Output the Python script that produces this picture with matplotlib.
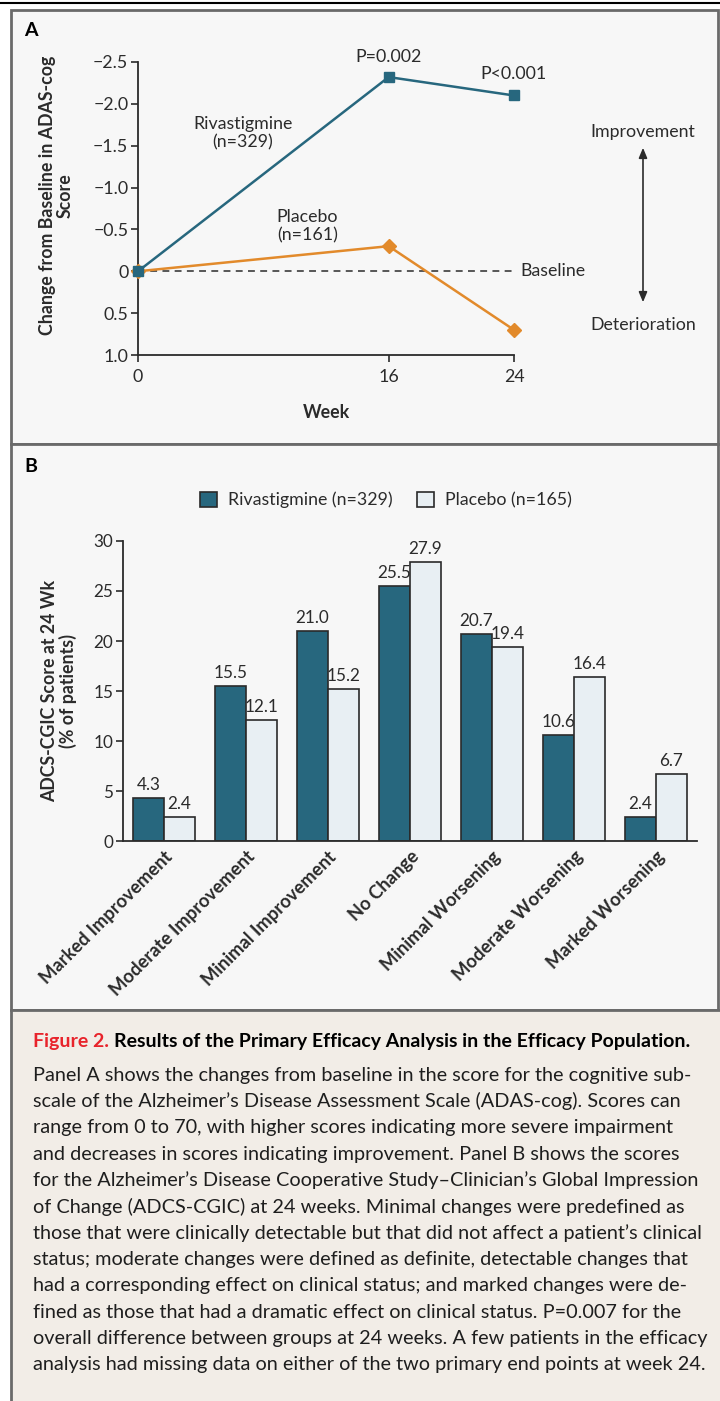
import matplotlib
matplotlib.use("Agg")
import matplotlib.pyplot as plt
import matplotlib.patches as patches
from matplotlib.lines import Line2D
import numpy as np

plt.rcParams['font.family'] = ['Lato', 'DejaVu Sans']

# ---- data, panel A
weeks = [0, 16, 24]
riva_change = [0.0, -2.32, -2.10]
placebo_change = [0.0, -0.30, 0.70]
a_yticks = [-2.5, -2.0, -1.5, -1.0, -0.5, 0, 0.5, 1.0]
a_yticklabels = ['\u22122.5', '\u22122.0', '\u22121.5', '\u22121.0', '\u22120.5', '0', '0.5', '1.0']

# ---- data, panel B
categories = ['Marked Improvement', 'Moderate Improvement', 'Minimal Improvement',
              'No Change', 'Minimal Worsening', 'Moderate Worsening', 'Marked Worsening']
riva_pct = [4.3, 15.5, 21.0, 25.5, 20.7, 10.6, 2.4]
placebo_pct = [2.4, 12.1, 15.2, 27.9, 19.4, 16.4, 6.7]
b_yticks = [0, 5, 10, 15, 20, 25, 30]

caption_title = 'Results of the Primary Efficacy Analysis in the Efficacy Population.'
caption_lines = [
    'Panel A shows the changes from baseline in the score for the cognitive sub-',
    'scale of the Alzheimer\u2019s Disease Assessment Scale (ADAS-cog). Scores can',
    'range from 0 to 70, with higher scores indicating more severe impairment',
    'and decreases in scores indicating improvement. Panel B shows the scores',
    'for the Alzheimer\u2019s Disease Cooperative Study\u2013Clinician\u2019s Global Impression',
    'of Change (ADCS-CGIC) at 24 weeks. Minimal changes were predefined as',
    'those that were clinically detectable but that did not affect a patient\u2019s clinical',
    'status; moderate changes were defined as definite, detectable changes that',
    'had a corresponding effect on clinical status; and marked changes were de-',
    'fined as those that had a dramatic effect on clinical status. P=0.007 for the',
    'overall difference between groups at 24 weeks. A few patients in the efficacy',
    'analysis had missing data on either of the two primary end points at week 24.',
]

RIVA = '#27677e'
PLAC = '#e8eff3'
ORANGE = '#e28a2b'
INK = '#2b2b2b'
PANEL_BG = '#f7f7f7'
CAP_BG = '#f2ede7'
BORDER = '#6a6a6a'
FS = 12.8

W, H = 720, 1401
fig = plt.figure(figsize=(W / 100, H / 100), dpi=100, facecolor='white')


def fx(px):
    return px / W


def fy(py):
    return 1 - py / H


def ax_rect(l, t, r, b):
    return [fx(l), fy(b), (r - l) / W, (b - t) / H]


# background boxes
fig.add_artist(Line2D([0, 1], [fy(3), fy(3)], color='black', lw=1.5, zorder=-5))
fig.add_artist(patches.Rectangle((fx(11), fy(444)), fx(718) - fx(11), fy(10) - fy(444),
                                 facecolor=PANEL_BG, edgecolor=BORDER, lw=2, zorder=-5))
fig.add_artist(patches.Rectangle((fx(11), fy(1010)), fx(718) - fx(11), fy(444) - fy(1010),
                                 facecolor=PANEL_BG, edgecolor=BORDER, lw=2, zorder=-5))
fig.add_artist(patches.Rectangle((fx(11), fy(1420)), fx(730) - fx(11), fy(1010) - fy(1420),
                                 facecolor=CAP_BG, edgecolor=BORDER, lw=2, zorder=-5))

# ================= Panel A =================
axA = fig.add_axes(ax_rect(138, 62, 514, 355))
axA.set_facecolor('none')
axA.plot(weeks, placebo_change, color=ORANGE, lw=1.8, marker='D', ms=7.5,
         mec=ORANGE, zorder=3, clip_on=False)
axA.plot(weeks, riva_change, color=RIVA, lw=1.8, marker='s', ms=7.5,
         mec=RIVA, zorder=4, clip_on=False)
axA.plot([0, 24], [0, 0], color=INK, lw=1.1, ls=(0, (4.5, 3.5)), zorder=1, clip_on=False)
axA.set_xlim(0, 24)
axA.set_ylim(1.0, -2.5)
axA.set_xticks(weeks)
axA.set_yticks(a_yticks)
axA.set_yticklabels(a_yticklabels)
for s in ['top', 'right']:
    axA.spines[s].set_visible(False)
for s in ['left', 'bottom']:
    axA.spines[s].set_color(INK)
    axA.spines[s].set_linewidth(1.3)
axA.tick_params(length=5, width=1.2, color=INK, labelsize=FS, labelcolor=INK, pad=2)
axA.tick_params(axis='x', pad=5)
axA.set_xlabel('Week', fontsize=FS, fontweight='bold', color=INK, labelpad=14)
axA.set_ylabel('Change from Baseline in ADAS-cog\nScore', fontsize=FS,
               fontweight='bold', color=INK, linespacing=1.05)
axA.yaxis.set_label_coords(-0.17, 0.545)

axA.text(16, -2.47, 'P=0.002', ha='center', va='bottom', fontsize=FS, color=INK)
axA.text(24, -2.26, 'P<0.001', ha='center', va='bottom', fontsize=FS, color=INK)
axA.text(6.7, -1.65, 'Rivastigmine\n(n=329)', ha='center', va='center', fontsize=FS,
         color=INK, linespacing=1.2)
axA.text(10.8, -0.54, 'Placebo\n(n=161)', ha='center', va='center', fontsize=FS,
         color=INK, linespacing=1.2)
axA.text(24.4, 0, 'Baseline', ha='left', va='center', fontsize=FS, color=INK)

fig.text(fx(643), fy(132), 'Improvement', ha='center', va='center', fontsize=FS, color=INK)
fig.text(fx(643), fy(325), 'Deterioration', ha='center', va='center', fontsize=FS, color=INK)
fig.add_artist(patches.FancyArrowPatch((fx(643), fy(145)), (fx(643), fy(305)),
                                       transform=fig.transFigure,
                                       arrowstyle='<|-|>,head_length=6,head_width=2.5',
                                       color=INK, lw=1.2))
fig.text(fx(24), fy(31), 'A', ha='left', va='center', fontsize=14, fontweight='bold', color='black')

# ================= Panel B =================
axB = fig.add_axes(ax_rect(123, 541, 697, 841))
axB.set_facecolor('none')
x = np.arange(len(categories))
bw = 0.378
axB.bar(x - bw / 2, riva_pct, bw, color=RIVA, edgecolor='#2a2a2a', lw=1.2,
        label='Rivastigmine (n=329)', zorder=2)
axB.bar(x + bw / 2, placebo_pct, bw, color=PLAC, edgecolor='#2a2a2a', lw=1.2,
        label='Placebo (n=165)', zorder=2)
for i in range(len(categories)):
    axB.text(x[i] - bw / 2, riva_pct[i] + 0.5, f'{riva_pct[i]:.1f}', ha='center',
             va='bottom', fontsize=12.3, color=INK)
    axB.text(x[i] + bw / 2, placebo_pct[i] + 0.5, f'{placebo_pct[i]:.1f}', ha='center',
             va='bottom', fontsize=12.3, color=INK)
axB.set_xlim(-0.5, 6.5)
axB.set_ylim(0, 30)
axB.set_yticks(b_yticks)
axB.set_xticks(x)
axB.set_xticklabels(categories, rotation=45, ha='right', rotation_mode='anchor',
                    fontsize=13.2, fontweight='bold', color=INK)
for s in ['top', 'right']:
    axB.spines[s].set_visible(False)
for s in ['left', 'bottom']:
    axB.spines[s].set_color(INK)
    axB.spines[s].set_linewidth(1.3)
axB.tick_params(axis='y', length=5, width=1.2, color=INK, labelsize=12.3, labelcolor=INK, pad=2)
axB.tick_params(axis='x', length=0, pad=5)
axB.set_ylabel('ADCS-CGIC Score at 24 Wk\n(% of patients)', fontsize=FS,
               fontweight='bold', color=INK, labelpad=12, linespacing=1.05)
axB.legend(loc='center', bbox_to_anchor=(fx(386), fy(500)), bbox_transform=fig.transFigure,
           ncol=2, frameon=False, fontsize=FS, handlelength=0.95, handleheight=0.95,
           handletextpad=0.6, columnspacing=1.4, labelcolor=INK)
fig.text(fx(24), fy(467), 'B', ha='left', va='center', fontsize=14, fontweight='bold', color='black')

# ================= Caption =================
t1 = fig.text(fx(33), fy(1042), 'Figure 2.', ha='left', va='center', fontsize=14,
              fontweight='bold', color='#e8232b')
fig.canvas.draw()
bb = t1.get_window_extent()
fig.text(bb.x1 / W + fx(5), fy(1042), caption_title, ha='left', va='center',
         fontsize=14, fontweight='bold', color='black')
for k, line in enumerate(caption_lines):
    fig.text(fx(33), fy(1075 + k * 26.35), line, ha='left', va='center', fontsize=14.3,
             color='#1e1e1e')

fig.savefig('out.png', dpi=100, facecolor=fig.get_facecolor())
